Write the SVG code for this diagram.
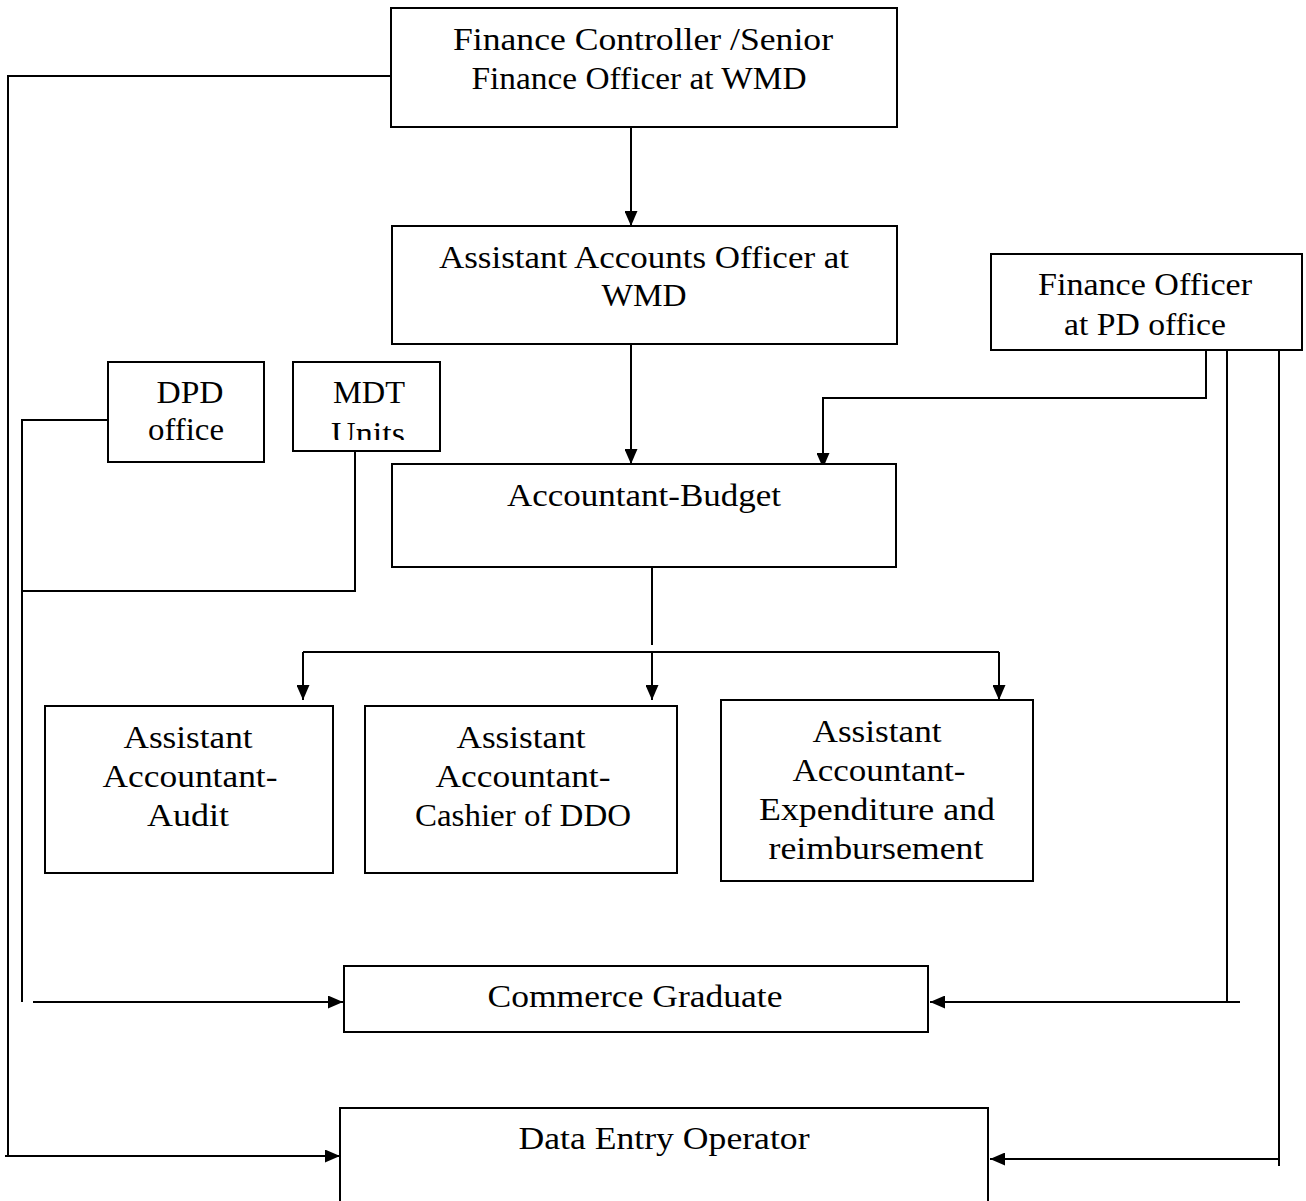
<svg xmlns="http://www.w3.org/2000/svg" width="1306" height="1201" viewBox="0 0 1306 1201">
  <style>
    .box { fill: #ffffff; stroke: #000000; stroke-width: 2; }
    .lbl { font-family: "Liberation Serif", "DejaVu Serif", serif; font-size: 32px; fill: #000000; text-anchor: middle; }
    .wire { fill: none; stroke: #000000; stroke-width: 2; }
  </style>
  <defs>
    <marker id="arrow" markerUnits="userSpaceOnUse" markerWidth="15" markerHeight="13" refX="15" refY="6.5" orient="auto">
      <path d="M0,0 L15,6.5 L0,13 z" fill="#000000"/>
    </marker>
    <clipPath id="mdtClip">
      <rect x="293" y="362" width="147" height="78"/>
    </clipPath>
  </defs>
  <rect width="1306" height="1201" fill="#ffffff"/>

  <g id="connectors">
    <path class="wire" d="M391,76 H8 V1156"/>
    <path class="wire" d="M5,1156 H340" marker-end="url(#arrow)"/>
    <path class="wire" d="M631,127 V226" marker-end="url(#arrow)"/>
    <path class="wire" d="M631,344 V464" marker-end="url(#arrow)"/>
    <path class="wire" d="M1206,350 V398 H823 V468" marker-end="url(#arrow)"/>
    <path class="wire" d="M1227,350 V1002"/>
    <path class="wire" d="M1240,1002 H930" marker-end="url(#arrow)"/>
    <path class="wire" d="M1279,350 V1166"/>
    <path class="wire" d="M1279,1159 H990" marker-end="url(#arrow)"/>
    <path class="wire" d="M108,420 H22 V1002"/>
    <path class="wire" d="M33,1002 H343" marker-end="url(#arrow)"/>
    <path class="wire" d="M355,451 V591 H22"/>
    <path class="wire" d="M652,567 V645"/>
    <path class="wire" d="M303,652 H999"/>
    <path class="wire" d="M303,652 V700" marker-end="url(#arrow)"/>
    <path class="wire" d="M652,652 V700" marker-end="url(#arrow)"/>
    <path class="wire" d="M999,652 V700" marker-end="url(#arrow)"/>
  </g>

  <g id="finance-controller">
    <rect class="box" x="391" y="8" width="506" height="119"/>
    <text class="lbl" x="643" y="50" textLength="380" lengthAdjust="spacingAndGlyphs">Finance Controller /Senior</text>
    <text class="lbl" x="639" y="89" textLength="335" lengthAdjust="spacingAndGlyphs">Finance Officer at WMD</text>
  </g>

  <g id="assistant-accounts-officer">
    <rect class="box" x="392" y="226" width="505" height="118"/>
    <text class="lbl" x="644" y="268" textLength="410" lengthAdjust="spacingAndGlyphs">Assistant Accounts Officer at</text>
    <text class="lbl" x="644" y="306" textLength="85" lengthAdjust="spacingAndGlyphs">WMD</text>
  </g>

  <g id="finance-officer-pd">
    <rect class="box" x="991" y="254" width="311" height="96"/>
    <text class="lbl" x="1145" y="295" textLength="214" lengthAdjust="spacingAndGlyphs">Finance Officer</text>
    <text class="lbl" x="1145" y="335" textLength="162" lengthAdjust="spacingAndGlyphs">at PD office</text>
  </g>

  <g id="dpd-office">
    <rect class="box" x="108" y="362" width="156" height="100"/>
    <text class="lbl" x="190" y="403" textLength="67" lengthAdjust="spacingAndGlyphs">DPD</text>
    <text class="lbl" x="186" y="440" textLength="76" lengthAdjust="spacingAndGlyphs">office</text>
  </g>

  <g id="mdt-units">
    <rect class="box" x="293" y="362" width="147" height="89"/>
    <g clip-path="url(#mdtClip)">
      <text class="lbl" x="369" y="403" textLength="72" lengthAdjust="spacingAndGlyphs">MDT</text>
      <text class="lbl" x="368" y="444" textLength="74" lengthAdjust="spacingAndGlyphs">Units</text>
    </g>
  </g>

  <g id="accountant-budget">
    <rect class="box" x="392" y="464" width="504" height="103"/>
    <text class="lbl" x="644" y="506" textLength="274" lengthAdjust="spacingAndGlyphs">Accountant-Budget</text>
  </g>

  <g id="assistant-audit">
    <rect class="box" x="45" y="706" width="288" height="167"/>
    <text class="lbl" x="188" y="748" textLength="129" lengthAdjust="spacingAndGlyphs">Assistant</text>
    <text class="lbl" x="190" y="787" textLength="175" lengthAdjust="spacingAndGlyphs">Accountant-</text>
    <text class="lbl" x="188" y="826" textLength="82" lengthAdjust="spacingAndGlyphs">Audit</text>
  </g>

  <g id="assistant-cashier">
    <rect class="box" x="365" y="706" width="312" height="167"/>
    <text class="lbl" x="521" y="748" textLength="129" lengthAdjust="spacingAndGlyphs">Assistant</text>
    <text class="lbl" x="523" y="787" textLength="175" lengthAdjust="spacingAndGlyphs">Accountant-</text>
    <text class="lbl" x="523" y="826" textLength="216" lengthAdjust="spacingAndGlyphs">Cashier of DDO</text>
  </g>

  <g id="assistant-expenditure">
    <rect class="box" x="721" y="700" width="312" height="181"/>
    <text class="lbl" x="877" y="742" textLength="129" lengthAdjust="spacingAndGlyphs">Assistant</text>
    <text class="lbl" x="879" y="781" textLength="173" lengthAdjust="spacingAndGlyphs">Accountant-</text>
    <text class="lbl" x="877" y="820" textLength="236" lengthAdjust="spacingAndGlyphs">Expenditure and</text>
    <text class="lbl" x="876" y="859" textLength="215" lengthAdjust="spacingAndGlyphs">reimbursement</text>
  </g>

  <g id="commerce-graduate">
    <rect class="box" x="344" y="966" width="584" height="66"/>
    <text class="lbl" x="635" y="1007" textLength="295" lengthAdjust="spacingAndGlyphs">Commerce Graduate</text>
  </g>

  <g id="data-entry-operator">
    <rect class="box" x="340" y="1108" width="648" height="110"/>
    <text class="lbl" x="664" y="1149" textLength="291" lengthAdjust="spacingAndGlyphs">Data Entry Operator</text>
  </g>
</svg>
